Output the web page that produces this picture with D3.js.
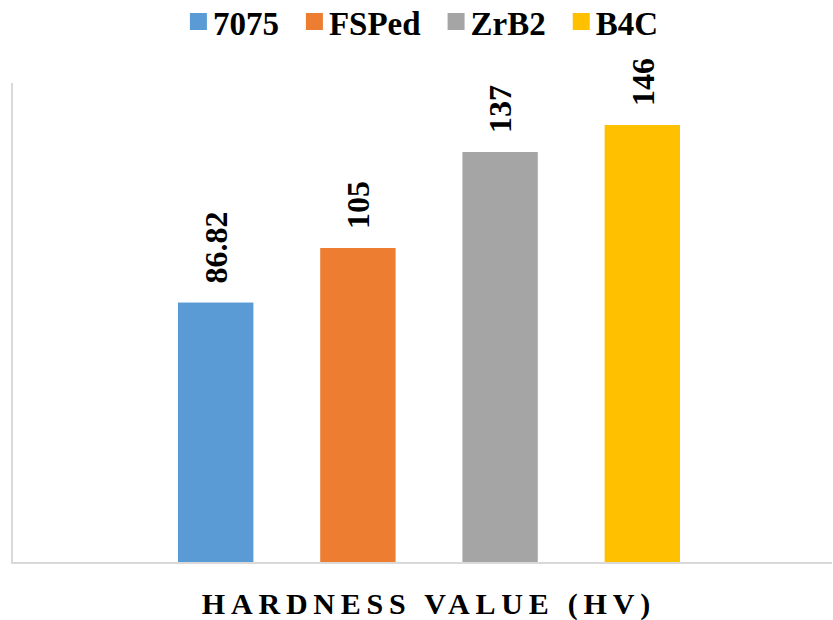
<!DOCTYPE html>
<html>
<head>
<meta charset="utf-8">
<script src="https://cdn.jsdelivr.net/npm/d3@7"></script>
<style>
  html, body { margin: 0; padding: 0; background: #fff; }
  svg { display: block; }
</style>
</head>
<body>
<svg id="chart" width="833" height="620"></svg>
<script>
const seriesNames = ["7075", "FSPed", "ZrB2", "B4C"];
const seriesValues = [86.82, 105, 137, 146];
const valueLabels = ["86.82", "105", "137", "146"];
const seriesColors = ["#5B9BD5", "#ED7D31", "#A5A5A5", "#FFC000"];
const axisTitle = "HARDNESS VALUE (HV)";
const yDomain = [0, 160];

const FONT = "'Liberation Serif', 'Times New Roman', Times, 'DejaVu Serif', serif";

const svg = d3.select("#chart");
const plot = { left: 12, right: 832, top: 83, bottom: 563 };

const y = d3.scaleLinear().domain(yDomain).range([plot.bottom, plot.top]);
const x = d3.scaleBand().domain(seriesNames).range([178, 680]).paddingInner(0.47).paddingOuter(0);

// axis lines
svg.append("line")
  .attr("x1", plot.left).attr("x2", plot.left)
  .attr("y1", plot.top).attr("y2", plot.bottom)
  .attr("stroke", "#d9d9d9").attr("stroke-width", 2);
svg.append("line")
  .attr("x1", plot.left - 1).attr("x2", plot.right)
  .attr("y1", plot.bottom).attr("y2", plot.bottom)
  .attr("stroke", "#d9d9d9").attr("stroke-width", 2);

// bars
svg.append("g").selectAll("rect")
  .data(seriesNames)
  .join("rect")
  .attr("x", d => x(d))
  .attr("width", x.bandwidth())
  .attr("y", (d, i) => y(seriesValues[i]))
  .attr("height", (d, i) => y(0) - y(seriesValues[i]) - 1)
  .attr("fill", (d, i) => seriesColors[i]);

// value labels (rotated)
svg.append("g").selectAll("text")
  .data(seriesNames)
  .join("text")
  .attr("transform", (d, i) => `translate(${x(d) + x.bandwidth() / 2},${y(seriesValues[i]) - 19}) rotate(-90)`)
  .attr("dy", "0.35em")
  .attr("text-anchor", "start")
  .attr("font-family", FONT)
  .attr("font-weight", "bold")
  .attr("font-size", 32)
  .attr("fill", "#000")
  .text((d, i) => valueLabels[i]);

// legend
const legend = svg.append("g");
const items = legend.selectAll("g").data(seriesNames).join("g");
items.append("rect").attr("width", 17).attr("height", 17).attr("y", 13)
  .attr("fill", (d, i) => seriesColors[i]);
items.append("text").attr("x", 23).attr("y", 35)
  .attr("font-family", FONT).attr("font-weight", "bold").attr("font-size", 33).attr("fill", "#000")
  .text(d => d);
let cx = 0;
const offsets = [];
items.each(function (d, i) {
  offsets.push(cx);
  const tw = d3.select(this).select("text").node().getComputedTextLength();
  cx += 23 + tw + 27;
});
const totalW = cx - 27;
const startX = 424 - totalW / 2;
items.attr("transform", (d, i) => `translate(${startX + offsets[i]},0)`);

// axis title
const ls = 5.8;
svg.append("text")
  .attr("x", 426 + ls / 2).attr("y", 614)
  .attr("text-anchor", "middle")
  .attr("font-family", FONT).attr("font-weight", "bold").attr("font-size", 30).attr("fill", "#000")
  .attr("letter-spacing", ls)
  .text(axisTitle);
</script>
</body>
</html>
